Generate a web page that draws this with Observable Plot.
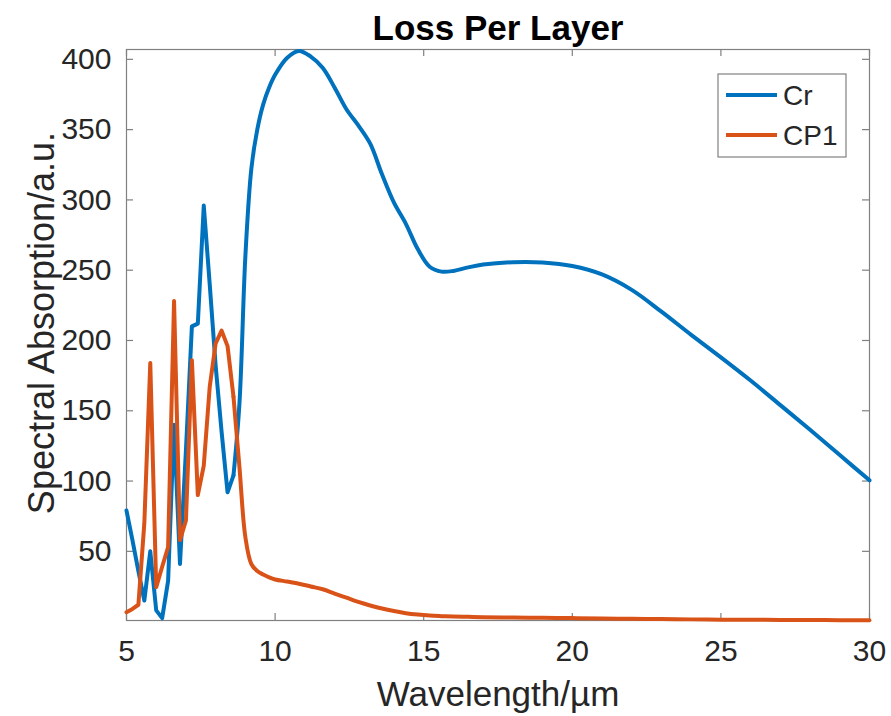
<!DOCTYPE html>
<html>
<head>
<meta charset="utf-8">
<script src="https://cdn.jsdelivr.net/npm/d3@7"></script>
<script src="https://cdn.jsdelivr.net/npm/@observablehq/plot@0.6"></script>
<style>
  body { margin: 0; background: #fff; }
  #chart svg { display: block; }
</style>
</head>
<body>
<div id="chart"></div>
<script>
// Wavelength grid (µm) shared by both layers
const wavelength = [
  5.0, 5.2, 5.4, 5.6, 5.8, 6.0, 6.2, 6.4, 6.6, 6.8,
  7.0, 7.2, 7.4, 7.6, 7.8, 8.0, 8.2, 8.4, 8.6, 8.8,
  9.0, 9.2, 9.4, 9.6, 9.8, 10.0, 10.4, 10.8, 11.2, 11.6,
  12.0, 12.4, 12.8, 13.2, 13.6, 14.0, 14.4, 14.8, 15.2, 15.6,
  16.0, 16.5, 17, 18, 19, 20, 21, 22, 23, 24,
  25, 26, 27, 28, 29, 30
];

// Spectral absorption of the Cr layer
const cr = [
  79, 58, 36, 15, 50, 8, 2.5, 29, 140, 41,
  122, 210, 212, 296, 240, 182, 135, 92, 104, 155,
  260, 322, 350, 368, 380, 389, 401, 406, 402, 394,
  380, 364.5, 353, 340, 318, 298, 283, 265, 252.5, 249,
  249.5, 252, 254, 255.7, 255.5, 253, 247, 236, 220.5, 204,
  188, 171.5, 154, 136.5, 118.5, 100.5
];

// Spectral absorption of the CP1 layer
const cp1 = [
  6.7, 9, 12, 70, 184, 24.5, 39, 53, 228, 58,
  72, 186, 90, 111, 167, 198, 207, 196, 160, 110,
  60, 41, 36, 33.5, 31.5, 30, 28.5, 27, 25, 23,
  20, 17, 14, 11.5, 9.3, 7.5, 6, 5, 4.3, 3.9,
  3.6, 3.4, 3.2, 2.9, 2.7, 2.5, 2.2, 2, 1.8, 1.6,
  1.4, 1.3, 1.2, 1.1, 1.05, 1
];

const seriesNames = ["Cr", "CP1"];
const seriesColors = ["#0072BD", "#D95319"];
const xTicks = [5, 10, 15, 20, 25, 30];
const yTicks = [50, 100, 150, 200, 250, 300, 350, 400];

const titleText = "Loss Per Layer";
const xLabel = "Wavelength/µm";
const yLabel = "Spectral Absorption/a.u.";

const rows = wavelength.flatMap((w, i) => [
  {w, v: cr[i], s: seriesNames[0]},
  {w, v: cp1[i], s: seriesNames[1]}
]);

const W = 891, H = 716;
const mL = 126, mR = 22, mT = 49, mB = 96;
const plotW = W - mL - mR, plotH = H - mT - mB;
const tickLen = 7;
const axisGray = "#808080";
const ink = "#262626";
const font = "'Liberation Sans', Arial, Helvetica, sans-serif";

// the jagged short-wave part is drawn point to point, the long-wave tail smoothly
const splitAt = 8.6;

const chart = Plot.plot({
  width: W,
  height: H,
  marginLeft: mL,
  marginRight: mR,
  marginTop: mT,
  marginBottom: mB,
  style: {fontFamily: font, color: ink, background: "#fff"},
  x: {domain: [5, 30]},
  y: {domain: [0.8, 407]},
  color: {domain: seriesNames, range: seriesColors},
  marks: [
    Plot.frame({stroke: axisGray, strokeWidth: 1.2}),
    // inward ticks on all four sides
    Plot.tickX(xTicks, {x: d => d, stroke: axisGray, strokeWidth: 1.2, insetTop: plotH - tickLen}),
    Plot.tickX(xTicks, {x: d => d, stroke: axisGray, strokeWidth: 1.2, insetBottom: plotH - tickLen}),
    Plot.tickY(yTicks, {y: d => d, stroke: axisGray, strokeWidth: 1.2, insetRight: plotW - tickLen}),
    Plot.tickY(yTicks, {y: d => d, stroke: axisGray, strokeWidth: 1.2, insetLeft: plotW - tickLen}),
    Plot.axisX({ticks: xTicks, tickSize: 0, tickPadding: 19, fontSize: 30, label: null, tickFormat: d => String(d)}),
    Plot.axisY({ticks: yTicks, tickSize: 0, tickPadding: 15, fontSize: 30, label: null, tickFormat: d => String(d)}),
    Plot.line(rows.filter(d => d.w <= splitAt), {
      x: "w", y: "v", z: "s", stroke: "s", strokeWidth: 4, curve: "linear"
    }),
    Plot.line(rows.filter(d => d.w >= splitAt), {
      x: "w", y: "v", z: "s", stroke: "s", strokeWidth: 4, curve: "catmull-rom"
    }),
    Plot.text([titleText], {frameAnchor: "top", dy: -21, lineAnchor: "middle", fontSize: 35, fontWeight: "bold", fill: "#000"}),
    Plot.text([xLabel], {frameAnchor: "bottom", dy: 74, lineAnchor: "middle", fontSize: 35, fill: ink}),
    Plot.text([yLabel], {frameAnchor: "left", dx: -84, dy: -12, rotate: -90, textAnchor: "middle", lineAnchor: "middle", fontSize: 36, fill: ink})
  ]
});

// legend box in the upper-right corner of the axes
const svg = d3.select(chart);
const lg = svg.append("g").attr("transform", `translate(${W - mR - 23 - 128},${mT + 25})`);
lg.append("rect")
  .attr("width", 128).attr("height", 83)
  .attr("fill", "#fff").attr("stroke", axisGray).attr("stroke-width", 1.2);
seriesNames.forEach((name, i) => {
  const yy = 21 + i * 40;
  lg.append("line")
    .attr("x1", 8).attr("x2", 59).attr("y1", yy).attr("y2", yy)
    .attr("stroke", seriesColors[i]).attr("stroke-width", 4);
  lg.append("text")
    .attr("x", 65).attr("y", yy).attr("dy", "0.36em")
    .attr("text-anchor", "start")
    .attr("font-size", 28).attr("fill", ink)
    .text(name);
});

document.getElementById("chart").appendChild(chart);
</script>
</body>
</html>
